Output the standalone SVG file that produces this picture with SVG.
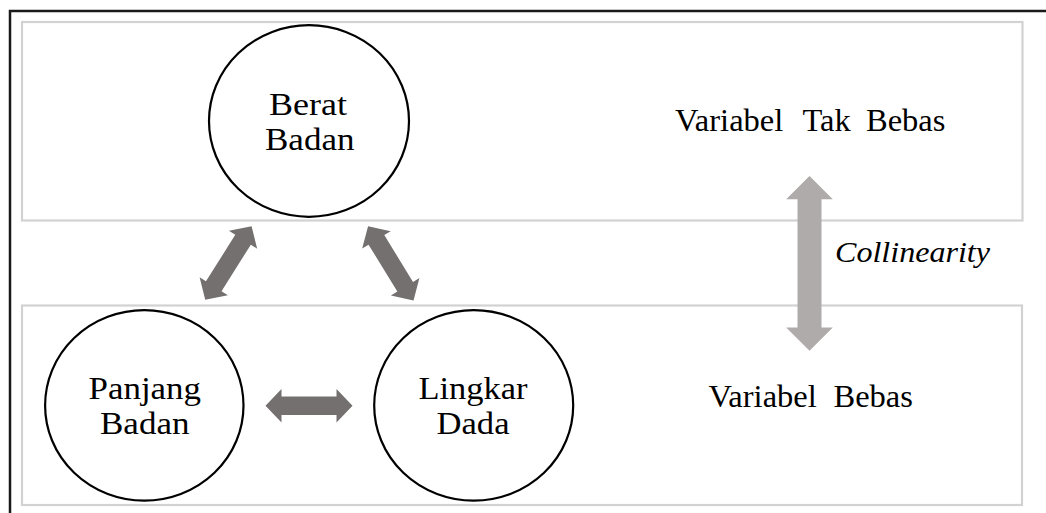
<svg xmlns="http://www.w3.org/2000/svg" xmlns:xlink="http://www.w3.org/1999/xlink" width="1046" height="513" viewBox="0 0 1046 513">
<style>
.band{fill:none;stroke:#d2d2d2;stroke-width:2.2}
.node{fill:#fff;stroke:#000;stroke-width:2.2}
.t{font-family:"Liberation Serif","Times New Roman",serif;font-size:31px;fill:#000}
.lab{font-family:"Liberation Serif","Times New Roman",serif;font-size:32.5px;fill:#000}
.ti{font-family:"Liberation Serif","Times New Roman",serif;font-size:30px;font-style:italic;fill:#000}
.dark{fill:#757070}
.light{fill:#afabab}
</style>
<defs>
<polygon id="dbl" points="-43.5,0 -27.5,-16.7 -27.5,-9.2 27.5,-9.2 27.5,-16.7 43.5,0 27.5,16.7 27.5,9.2 -27.5,9.2 -27.5,16.7"/>
</defs>
<rect width="1046" height="513" fill="#fff"/>
<path d="M10,513 V11 H1046" fill="none" stroke="#1a1a1a" stroke-width="2.5"/>
<g id="bands">
<rect class="band" x="22" y="22" width="1000.5" height="198.5"/>
<rect class="band" x="22" y="305.5" width="1000" height="199.5"/>
</g>
<g id="connectors">
<use xlink:href="#dbl" class="dark" transform="translate(228.4,263) rotate(-57.8)"/>
<use xlink:href="#dbl" class="dark" transform="translate(390.8,263.3) rotate(58.5)"/>
<use xlink:href="#dbl" class="dark" transform="translate(309,405.7)"/>
<polygon class="light" points="809.5,176 832.8,199.3 821.5,199.3 821.5,327.4 832.8,327.4 809.5,350.7 786.2,327.4 797.5,327.4 797.5,199.3 786.2,199.3"/>
</g>
<g id="berat-badan">
<ellipse class="node" cx="309" cy="121" rx="100" ry="95.8"/>
<text class="t" x="269" y="115" textLength="78" lengthAdjust="spacingAndGlyphs">Berat</text>
<text class="t" x="265" y="149.5" textLength="89.5" lengthAdjust="spacingAndGlyphs">Badan</text>
</g>
<g id="panjang-badan">
<ellipse class="node" cx="144.3" cy="405.4" rx="99.2" ry="95.3"/>
<text class="t" x="88.5" y="399.3" textLength="112.5" lengthAdjust="spacingAndGlyphs">Panjang</text>
<text class="t" x="100" y="434" textLength="89.5" lengthAdjust="spacingAndGlyphs">Badan</text>
</g>
<g id="lingkar-dada">
<ellipse class="node" cx="473.7" cy="405.4" rx="99.5" ry="95.3"/>
<text class="t" x="418.5" y="398.5" textLength="109" lengthAdjust="spacingAndGlyphs">Lingkar</text>
<text class="t" x="436.5" y="434" textLength="73" lengthAdjust="spacingAndGlyphs">Dada</text>
</g>
<g id="labels">
<text class="lab" y="131"><tspan x="675">Variabel</tspan> <tspan x="802.5">Tak</tspan> <tspan x="866">Bebas</tspan></text>
<text class="lab" y="406.7"><tspan x="708.5">Variabel</tspan> <tspan x="833.5">Bebas</tspan></text>
<text class="ti" x="835" y="262" textLength="155" lengthAdjust="spacingAndGlyphs">Collinearity</text>
</g>
</svg>
